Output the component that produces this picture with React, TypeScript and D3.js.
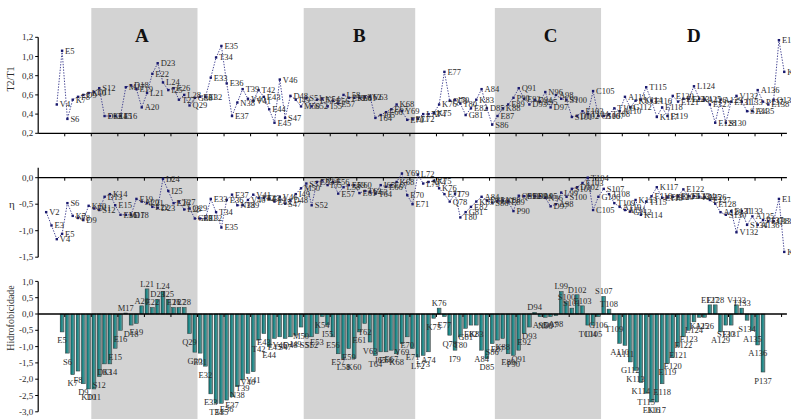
import React from "react";
import * as d3 from "d3";

// Residue letters, positions 1..141
const residues: string[] = (
  "MVEVESKFDKDSDKEEMDEALEDLIETLQGEEETEEENTVVTEEEVSDIMSSEKIEELEKETVTIEEKYEELLAKKEQITGEKADSEKEPQEDDANDALSSDETCGSTTAAGKKTEKEEEEEELKAEEASEVTSAAPEQEK"
).split("");

// T2/T1 relaxation ratio per residue
const t2t1: (number | null)[] = [
  null, null, null, 0.5, 1.06, 0.35, 0.55, 0.58, 0.6, 0.62,
  0.63, 0.67, 0.38, 0.38, 0.38, 0.38, 0.68, 0.7, 0.66, 0.47,
  0.62, 0.82, 0.93, 0.73, 0.65, 0.67, 0.55, 0.6, 0.49, 0.57,
  0.58, 0.58, 0.78, 0.99, 1.11, 0.72, 0.38, 0.52, 0.66, 0.56,
  0.54, 0.65, 0.58, 0.45, 0.31, 0.76, 0.36, 0.59, 0.55, 0.48,
  0.57, 0.48, 0.55, 0.56, 0.48, 0.54, 0.51, 0.6, 0.57, 0.57,
  0.57, 0.58, 0.58, 0.36, 0.39, 0.42, 0.45, 0.5, 0.43, 0.34,
  0.35, 0.35, 0.4, 0.4, 0.41, 0.5, 0.84, 0.54, 0.55, 0.51,
  0.39, 0.46, 0.55, 0.66, 0.46, 0.29, 0.38, 0.46, 0.5, 0.57,
  0.67, 0.56, 0.5, 0.55, 0.53, 0.63, 0.47, 0.6, 0.56, 0.55,
  0.37, 0.38, 0.43, 0.4, 0.64, 0.38, 0.38, 0.4, 0.46, 0.43,
  0.58, 0.47, 0.54, 0.55, 0.68, 0.54, 0.37, 0.47, 0.38, 0.59,
  0.53, 0.56, 0.56, 0.69, 0.56, 0.55, 0.5, 0.31, 0.55, 0.31,
  0.53, 0.59, 0.53, 0.43, 0.43, 0.65, 0.53, 0.5, 0.55, 1.17,
  0.84,
];

// η per residue
const eta: (number | null)[] = [
  null, -0.65, -0.9, -1.16, -1.06, -0.48, -0.72, -0.76, -0.8, -0.53,
  -0.58, -0.61, -0.36, -0.31, -0.52, -0.7, -0.7, -0.7, -0.4, -0.45,
  -0.48, -0.55, -0.57, -0.02, -0.25, -0.48, -0.45, -0.6, -0.58, -0.77,
  -0.77, -0.77, -0.4, -0.65, -0.94, -0.42, -0.32, -0.52, -0.52, -0.42,
  -0.32, -0.38, -0.38, -0.4, -0.45, -0.36, -0.49, -0.43, -0.31, -0.2,
  -0.11, -0.52, -0.08, -0.05, -0.14, -0.08, -0.3, -0.18, -0.14, -0.14,
  -0.29, -0.25, -0.27, -0.3, -0.14, -0.17, -0.14, -0.08, 0.08, -0.33,
  -0.5, 0.06, -0.11, -0.08, -0.06, -0.2, -0.31, -0.45, -0.3, -0.75,
  -0.65, -0.55, -0.45, -0.36, -0.43, -0.47, -0.44, -0.43, -0.45, -0.63,
  -0.34, -0.35, -0.34, -0.35, -0.35, -0.38, -0.54, -0.5, -0.28, -0.36,
  -0.21, -0.18, -0.1, 0.0, -0.61, -0.36, -0.21, -0.31, -0.48, -0.55,
  -0.61, -0.64, -0.42, -0.7, -0.45, -0.35, -0.18, -0.38, -0.37, -0.36,
  -0.35, -0.22, -0.35, -0.35, -0.36, -0.37, -0.42, -0.49, -0.65, -0.7,
  -0.63, -1.03, -0.63, -0.89, -0.73, -0.89, -0.8, -0.82, -0.82, -0.4,
  -1.4,
];

// Hydrophobicity per residue
const hydro: (number | null)[] = [
  null, null, null, null, -0.55, -1.2, -1.86, -1.75, -2.14, -2.3,
  -2.3, -1.92, -1.53, -1.53, -1.05, -0.5, 0.03, -0.34, -0.29, 0.25,
  0.77, 0.2, 0.45, 0.69, 0.45, 0.2, 0.2, 0.2, -0.6, -1.17,
  -1.2, -1.6, -2.45, -2.74, -2.74, -2.64, -2.54, -2.23, -2.02, -1.82,
  -1.77, -0.8, -0.6, -1.0, -0.75, -0.7, -0.75, -0.7, -0.65, -0.4,
  -0.7, -0.7, -0.6, -0.08, -0.34, -0.7, -1.22, -1.37, -1.06, -1.37,
  -0.55, -0.29, -0.86, -1.27, -1.16, -1.16, -1.11, -1.22, -0.91, -0.7,
  -1.06, -1.32, -1.27, -1.16, -0.13, 0.18, -0.08, -0.65, -1.11, -0.7,
  -0.44, -0.34, -0.34, -1.11, -1.37, -0.91, -0.8, -0.75, -1.22, -1.27,
  -1.11, -0.6, -0.4, 0.05, -0.08, -0.1, -0.08, -0.05, 0.69, 0.38,
  0.18, 0.59, 0.25, -0.34, -0.34, -0.08, 0.54, 0.15, -0.2, -0.9,
  -0.96, -1.47, -1.73, -2.1, -2.43, -2.7, -2.7, -2.14, -1.52, -1.34,
  -1.0, -0.7, -0.5, -0.24, -0.1, -0.1, 0.28, 0.28, -0.55, -0.34,
  -0.34, 0.28, 0.18, -0.19, -0.5, -0.95, -1.78, null, null, null,
  null,
];

// Shaded regions (first and last residue of each)
const regionNames = ["A", "B", "C", "D"];
const regionStart = [11, 51, 87, null];
const regionEnd = [30, 71, 106, null];
const regionLabelResidue = [20.5, 61.5, 97.5, 124.5];

const t2t1Ticks = [0.2, 0.4, 0.6, 0.8, 1.0, 1.2];
const etaTicks = [0.0, -0.5, -1.0, -1.5];
const hydroTicks = [1.0, 0.5, 0.0, -0.5, -1.0, -1.5, -2.0, -2.5, -3.0];

const W = 791;
const H = 419;
const SERIF = "'Liberation Serif', 'Times New Roman', serif";
const INK = "#2b2b2b";
const LINE = "#34348a";

const positions = residues.map((_, i) => i + 1);
const x = d3.scaleBand<number>().domain(positions).range([38.2, 786.9]).padding(0);
const bw = x.bandwidth();
const cx = (n: number) => (x(n) as number) + bw / 2;
const tickPositions = positions.filter((n) => n % 5 === 0);

const yTop = d3.scaleLinear().domain([0.2, 1.2]).range([133.3, 37.3]);
const yMid = d3.scaleLinear().domain([-1.5, 0.0]).range([257.2, 177.7]);
const yBot = d3.scaleLinear().domain([-3.0, 1.0]).range([411.8, 281.4]);

const fmt = (v: number) => d3.format(".1f")(v).replace(".", ",").replace("−", "-");

type Pt = { n: number; v: number; label: string };
const toPoints = (vals: (number | null)[]): Pt[] =>
  vals
    .map((v, i) => (v == null ? null : { n: i + 1, v, label: residues[i] + (i + 1) }))
    .filter((p): p is Pt => p !== null);

function YAxis({ scale, ticks, top, bottom }: { scale: d3.ScaleLinear<number, number>; ticks: number[]; top: number; bottom: number }) {
  const x0 = x(1) as number;
  return (
    <g>
      <line x1={x0} x2={x0} y1={top} y2={bottom} stroke="#000" strokeWidth={1.2} />
      {ticks.map((t) => (
        <g key={t}>
          <line x1={x0 - 3} x2={x0} y1={scale(t)} y2={scale(t)} stroke="#000" strokeWidth={1} />
          <text x={x0 - 5} y={scale(t)} dy="0.35em" textAnchor="end" fontSize={9} fill={INK} fontFamily={SERIF}>
            {fmt(t)}
          </text>
        </g>
      ))}
    </g>
  );
}

function XAxisLine({ y }: { y: number }) {
  const [r0, r1] = x.range();
  return (
    <g>
      <line x1={r0} x2={r1} y1={y} y2={y} stroke="#000" strokeWidth={1.3} />
      {tickPositions.map((n) => {
        const tx = (x(n) as number) + bw;
        return <line key={n} x1={tx} x2={tx} y1={y} y2={y + 3} stroke="#000" strokeWidth={1} />;
      })}
    </g>
  );
}

function LineSeries({ vals, scale }: { vals: (number | null)[]; scale: d3.ScaleLinear<number, number> }) {
  const pts = toPoints(vals);
  const path = d3
    .line<Pt>()
    .x((p) => cx(p.n))
    .y((p) => scale(p.v))(pts) as string;
  return (
    <g>
      <path d={path} fill="none" stroke={LINE} strokeWidth={0.9} strokeDasharray="1.4,1.4" />
      {pts.map((p) => (
        <rect key={p.n} x={cx(p.n) - 1.2} y={scale(p.v) - 1.2} width={2.4} height={2.4} fill="#1a1a6e" />
      ))}
      {pts.map((p) => (
        <text key={"l" + p.n} x={cx(p.n) + 3} y={scale(p.v)} dy="0.35em" fontSize={8.5} fill={INK} fontFamily={SERIF}>
          {p.label}
        </text>
      ))}
    </g>
  );
}

function BarSeries({ vals, scale }: { vals: (number | null)[]; scale: d3.ScaleLinear<number, number> }) {
  const pts = toPoints(vals);
  const w = bw * 0.72;
  const y0 = scale(0);
  return (
    <g>
      {pts.map((p) => {
        const yv = scale(p.v);
        return (
          <rect
            key={p.n}
            x={cx(p.n) - w / 2}
            y={Math.min(yv, y0)}
            width={w}
            height={Math.max(0.6, Math.abs(yv - y0))}
            fill="url(#barGrad)"
            stroke="#2f3a3a"
            strokeWidth={0.5}
          />
        );
      })}
      {pts.map((p) => {
        const yv = scale(p.v);
        const below = p.v < 0;
        return (
          <text
            key={"l" + p.n}
            x={cx(p.n)}
            y={below ? yv + 8.5 : yv - 5}
            dy="0.35em"
            textAnchor="middle"
            fontSize={8.5}
            fill={INK}
            fontFamily={SERIF}
          >
            {p.label}
          </text>
        );
      })}
    </g>
  );
}

export default function App() {
  return (
    <svg width={W} height={H} style={{ position: "absolute", left: 0, top: 0, background: "#fff" }}>
      <defs>
        <linearGradient id="barGrad" x1="0" x2="1" y1="0" y2="0">
          <stop offset="0%" stopColor="#0d6666" />
          <stop offset="45%" stopColor="#239191" />
          <stop offset="100%" stopColor="#7d8c8c" />
        </linearGradient>
      </defs>
      <rect x={0} y={0} width={W} height={H} fill="#fff" />

      {/* shaded residue regions */}
      {regionNames.map((name, k) => {
        const s = regionStart[k];
        const e = regionEnd[k];
        if (s == null || e == null) return null;
        const x0 = x(s) as number;
        const x1 = (x(e) as number) + bw;
        return <rect key={name} x={x0} y={8} width={x1 - x0} height={H - 8} fill="#d3d3d3" />;
      })}
      {regionNames.map((name, k) => {
        const r = regionLabelResidue[k];
        const px = (x(1) as number) + (r - 1) * bw;
        return (
          <text key={"t" + name} x={px} y={42} textAnchor="middle" fontSize={19} fontWeight="bold" fontFamily={SERIF} fill="#111">
            {name}
          </text>
        );
      })}

      {/* T2/T1 panel */}
      <YAxis scale={yTop} ticks={t2t1Ticks} top={yTop(1.2)} bottom={yTop(0.2)} />
      <XAxisLine y={yTop(0.2)} />
      <text transform={`translate(14,${79}) rotate(-90)`} textAnchor="middle" fontSize={10} fill={INK} fontFamily={SERIF}>
        T2/T1
      </text>
      <LineSeries vals={t2t1} scale={yTop} />

      {/* η panel */}
      <YAxis scale={yMid} ticks={etaTicks} top={yMid(0.19)} bottom={yMid(-1.5)} />
      <XAxisLine y={yMid(0)} />
      <text x={12} y={yMid(-0.5)} dy="0.35em" textAnchor="middle" fontSize={11} fill={INK} fontFamily={SERIF}>
        η
      </text>
      <LineSeries vals={eta} scale={yMid} />

      {/* hydrophobicity panel */}
      <YAxis scale={yBot} ticks={hydroTicks} top={yBot(1.0)} bottom={yBot(-3.0)} />
      <BarSeries vals={hydro} scale={yBot} />
      <XAxisLine y={yBot(0)} />
      <text transform={`translate(14,${318}) rotate(-90)`} textAnchor="middle" fontSize={10} fill={INK} fontFamily={SERIF}>
        Hidrofobicidade
      </text>
    </svg>
  );
}
